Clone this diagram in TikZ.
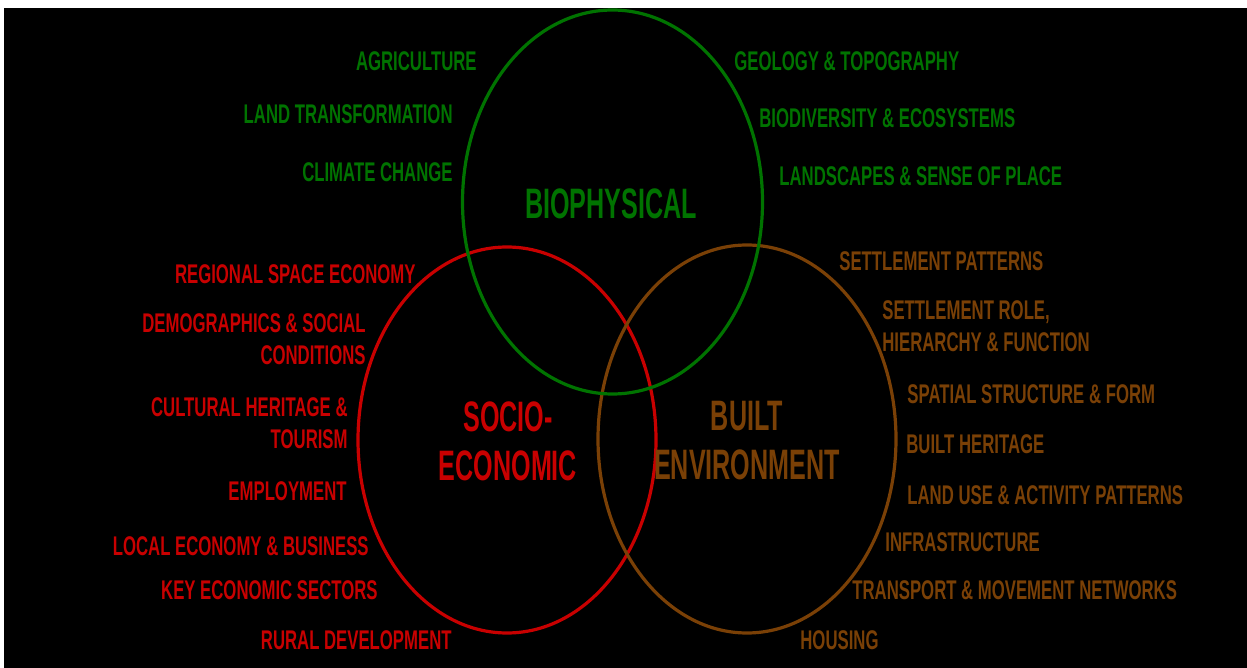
\documentclass[tikz,border=0pt]{standalone}
\usepackage{fontspec}
\setmainfont{Liberation Sans}[FakeStretch=0.62]
\newfontfamily\headfont{Liberation Sans}[FakeStretch=0.59]
\usepackage{xcolor}
\usetikzlibrary{positioning}

\definecolor{bioGreen}{RGB}{0,115,0}
\definecolor{socRed}{RGB}{200,0,0}
\definecolor{builtBrown}{RGB}{122,64,6}

\tikzset{
  topic/.style={inner sep=0pt, font=\bfseries\fontsize{13.5}{16}\selectfont},
  topicL/.style={topic, anchor=east, align=right},
  topicR/.style={topic, anchor=west, align=left},
  sphere/.style={inner sep=0pt, align=center, font=\headfont\bfseries\fontsize{21.3}{24.5}\selectfont},
  ring/.style={line width=1.6pt}
}

\begin{document}
\begin{tikzpicture}[x=0.5pt, y=-0.5pt]
      \useasboundingbox (0,0) rectangle (1247,668);
      \fill[white] (0,0) rectangle (1247,668);
      \fill[black] (4,8) rectangle (1247,668);

      \draw[ring, socRed] (507,440) ellipse [x radius=149, y radius=193];
      \draw[ring, builtBrown] (747,439) ellipse [x radius=149, y radius=194];
      \draw[ring, bioGreen] (612.5,202) ellipse [x radius=150, y radius=192];

      \node[sphere, bioGreen] (bio) at (611,204) {BIOPHYSICAL};
      \node[sphere, socRed] (soc) at (508,441) {SOCIO-\\ECONOMIC};
      \node[sphere, builtBrown] (built) at (747,441) {BUILT\\ENVIRONMENT};

      \node[topicL, bioGreen] (agri) at (477,61) {AGRICULTURE};
      \node[topicL, bioGreen] (landtr) at (453,114) {LAND TRANSFORMATION};
      \node[topicL, bioGreen] (climate) at (453,172) {CLIMATE CHANGE};
      \node[topicR, bioGreen] (geo) at (734,61) {GEOLOGY \& TOPOGRAPHY};
      \node[topicR, bioGreen] (biodiv) at (759,118) {BIODIVERSITY \& ECOSYSTEMS};
      \node[topicR, bioGreen] (landsc) at (779,176) {LANDSCAPES \& SENSE OF PLACE};

      \node[topicL, socRed] (regional) at (416,274) {REGIONAL SPACE ECONOMY};
      \node[topicL, socRed] (demo) at (366,339) {DEMOGRAPHICS \& SOCIAL\\CONDITIONS};
      \node[topicL, socRed] (culture) at (348,423) {CULTURAL HERITAGE \&\\TOURISM};
      \node[topicL, socRed] (employ) at (347,491) {EMPLOYMENT};
      \node[topicL, socRed] (local) at (369,546) {LOCAL ECONOMY \& BUSINESS};
      \node[topicL, socRed] (sectors) at (378,590) {KEY ECONOMIC SECTORS};
      \node[topicL, socRed] (rural) at (452,640) {RURAL DEVELOPMENT};

      \node[topicR, builtBrown] (settle) at (839,261) {SETTLEMENT PATTERNS};
      \node[topicR, builtBrown] (role) at (882,326) {SETTLEMENT ROLE,\\HIERARCHY \& FUNCTION};
      \node[topicR, builtBrown] (spatial) at (907,394) {SPATIAL STRUCTURE \& FORM};
      \node[topicR, builtBrown] (heritage) at (906,444) {BUILT HERITAGE};
      \node[topicR, builtBrown] (landuse) at (907,495) {LAND USE \& ACTIVITY PATTERNS};
      \node[topicR, builtBrown] (infra) at (885,542) {INFRASTRUCTURE};
      \node[topicR, builtBrown] (transport) at (852,590) {TRANSPORT \& MOVEMENT NETWORKS};
      \node[topicR, builtBrown] (housing) at (800,640) {HOUSING};
\end{tikzpicture}
\end{document}
